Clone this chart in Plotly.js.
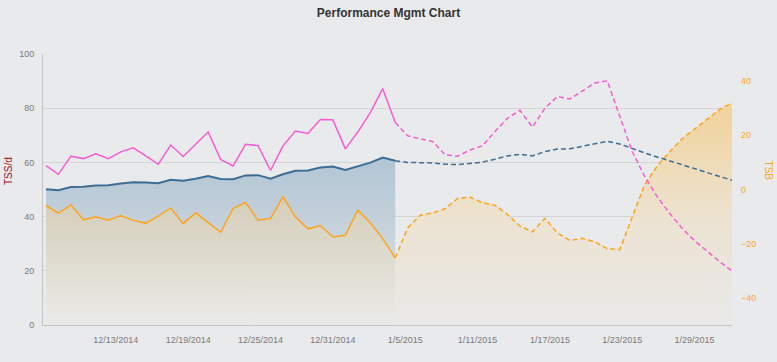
<!DOCTYPE html>
<html>
<head>
<meta charset="utf-8">
<script src="https://cdn.plot.ly/plotly-3.0.1.min.js"></script>
<style>html,body{margin:0;padding:0;background:#e9eaec;}#chart{width:777px;height:362px;}</style>
</head>
<body>
<div id="chart"></div>
<script>
// Day index of each point (0 = first day shown); 0..28 actual, 28..55 planned
var dayIndex = [0,1,2,3,4,5,6,7,8,9,10,11,12,13,14,15,16,17,18,19,20,21,22,23,24,25,26,27,28,29,30,31,32,33,34,35,36,37,38,39,40,41,42,43,44,45,46,47,48,49,50,51,52,53,54,55];
var lastActual = 28;

// ATL (pink, TSS/d)
var atl = [58.8,55.6,62.3,61.4,63.2,61.4,63.9,65.4,62.4,59.3,66.4,62.2,66.7,71.2,61.1,58.7,66.7,66.2,57.0,66.1,71.6,70.7,75.8,75.7,65.0,71.2,78.4,87.2,74.7,69.8,68.7,67.7,62.8,62.3,64.6,66.1,71.4,76.3,79.2,73.0,80.0,84.3,83.4,86.2,89.3,90.1,76.9,64.0,54.8,47.4,41.2,35.7,31.1,27.1,23.4,19.9];
// CTL (blue, TSS/d)
var ctl = [50.1,49.7,50.9,51.0,51.5,51.6,52.2,52.7,52.6,52.3,53.6,53.2,54.0,55.0,53.9,53.8,55.2,55.3,54.0,55.6,56.9,57.0,58.1,58.5,57.2,58.5,59.9,61.8,60.6,60.0,59.9,59.8,59.3,59.2,59.6,60.1,61.2,62.4,63.0,62.4,64.0,64.9,65.0,65.9,67.0,67.8,66.8,65.1,63.5,62.0,60.6,59.1,57.7,56.4,54.9,53.4];
// TSB (orange, right axis)
var tsb = [-5.9,-8.7,-5.7,-11.2,-10.1,-11.3,-9.6,-11.4,-12.4,-9.8,-6.8,-12.6,-8.6,-12.1,-15.8,-7.0,-4.8,-11.3,-10.7,-2.7,-10.1,-14.5,-13.3,-17.5,-16.9,-7.6,-12.3,-18.2,-25.2,-14.2,-9.5,-8.6,-7.1,-3.3,-2.8,-4.9,-5.8,-9.2,-13.5,-15.6,-10.7,-16.0,-18.8,-18.0,-19.3,-21.8,-22.2,-9.8,1.8,8.6,13.9,18.7,22.4,25.9,29.5,32.0];

// x-axis tick labels and where they sit along the day index
var tickLabels = ['12/13/2014','12/19/2014','12/25/2014','12/31/2014','1/5/2015','1/11/2015','1/17/2015','1/23/2015','1/29/2015'];
var tickPos = [5.6,11.4,17.2,23.0,28.8,34.6,40.4,46.2,52.0];

var tsbMin = -50;

function past(a){ return a.slice(0, lastActual+1); }
function future(a){ return a.slice(lastActual); }
function baseline(a){ return a.map(function(){ return tsbMin; }); }

var PINK = '#f95bd5', BLUE = '#3d6d94', ORANGE = '#ffa41b';
var DASH = '5px,3px';

var traces = [
  // blue CTL area (past)
  {x: past(dayIndex), y: past(ctl), yaxis:'y', mode:'lines', line:{width:0}, fill:'tozeroy',
   fillgradient:{type:'vertical', start:0, stop:62, colorscale:[[0,'rgb(224,227,230)'],[1,'rgb(178,197,212)']]},
   hoverinfo:'skip', showlegend:false},
  // orange TSB area (past)
  {x: past(dayIndex), y: baseline(past(dayIndex)), yaxis:'y2', mode:'lines', line:{width:0}, hoverinfo:'skip', showlegend:false},
  {x: past(dayIndex), y: past(tsb), yaxis:'y2', mode:'lines', line:{width:0}, fill:'tonexty',
   fillgradient:{type:'vertical', start:-50, stop:-5, colorscale:[[0,'rgb(234,234,232)'],[1,'rgb(213,207,186)']]},
   hoverinfo:'skip', showlegend:false},
  // orange TSB area (future)
  {x: future(dayIndex), y: baseline(future(dayIndex)), yaxis:'y2', mode:'lines', line:{width:0}, hoverinfo:'skip', showlegend:false},
  {x: future(dayIndex), y: future(tsb), yaxis:'y2', mode:'lines', line:{width:0}, fill:'tonexty',
   fillgradient:{type:'vertical', start:-50, stop:34, colorscale:[[0,'rgb(233,233,232)'],[0.45,'rgb(236,227,210)'],[1,'rgb(242,210,152)']]},
   hoverinfo:'skip', showlegend:false},
  // orange TSB lines
  {x: past(dayIndex), y: past(tsb), yaxis:'y2', mode:'lines', line:{color:ORANGE, width:1.5}, showlegend:false},
  {x: future(dayIndex), y: future(tsb), yaxis:'y2', mode:'lines', line:{color:ORANGE, width:1.5, dash:DASH}, showlegend:false},
  // blue CTL lines
  {x: past(dayIndex), y: past(ctl), yaxis:'y3', mode:'lines', line:{color:BLUE, width:2}, showlegend:false},
  {x: future(dayIndex), y: future(ctl), yaxis:'y3', mode:'lines', line:{color:BLUE, width:1.5, dash:DASH}, showlegend:false},
  // pink ATL lines
  {x: past(dayIndex), y: past(atl), yaxis:'y3', mode:'lines', line:{color:PINK, width:1.5}, showlegend:false},
  {x: future(dayIndex), y: future(atl), yaxis:'y3', mode:'lines', line:{color:PINK, width:1.5, dash:DASH}, showlegend:false}
];

var FONT = 'Liberation Sans, Arial, sans-serif';
var layout = {
  width: 777, height: 362,
  margin: {l:43, r:45, t:54, b:37, pad:0},
  paper_bgcolor: '#e9eaec', plot_bgcolor: '#e9eaec',
  font: {family: FONT},
  showlegend: false,
  title: {text:'<b>Performance Mgmt Chart</b>', font:{size:12, color:'#333333', family:FONT},
          x:0.5, xref:'container', xanchor:'center', y:0.966, yref:'container', yanchor:'middle'},
  xaxis: {range:[-0.24,55], tickmode:'array', tickvals: tickPos, ticktext: tickLabels,
          showgrid:false, zeroline:false, showline:true, linecolor:'#c2c3c5', linewidth:1,
          ticks:'', ticklabelstandoff:6, tickfont:{size:9, color:'#7a7a7a', family:FONT}, fixedrange:true},
  yaxis: {range:[0,100], dtick:20, showgrid:true, gridcolor:'#d3d4d6', gridwidth:1, zeroline:false,
          showline:true, linecolor:'#c2c3c5', linewidth:1, ticks:'', ticklabelstandoff:6,
          tickfont:{size:9, color:'#7a7a7a', family:FONT}},
  yaxis2: {range:[-50,50], overlaying:'y', side:'right', tickvals:[-40,-20,0,20,40],
          showgrid:false, zeroline:false, showline:false, ticks:'', ticklabelstandoff:8,
          tickfont:{size:9, color:ORANGE, family:FONT}},
  yaxis3: {range:[0,100], overlaying:'y', visible:false},
  annotations: [
    {text:'TSS/d', xref:'paper', yref:'paper', x:0, y:0.568, xshift:-35, showarrow:false,
     textangle:-90, xanchor:'center', yanchor:'middle', font:{size:10, color:'#a31515', family:FONT}},
    {text:'TSB', xref:'paper', yref:'paper', x:1, y:0.57, xshift:36, showarrow:false,
     textangle:90, xanchor:'center', yanchor:'middle', font:{size:10, color:ORANGE, family:FONT}}
  ]
};

Plotly.newPlot('chart', traces, layout, {displayModeBar:false, staticPlot:true});
</script>
</body>
</html>
